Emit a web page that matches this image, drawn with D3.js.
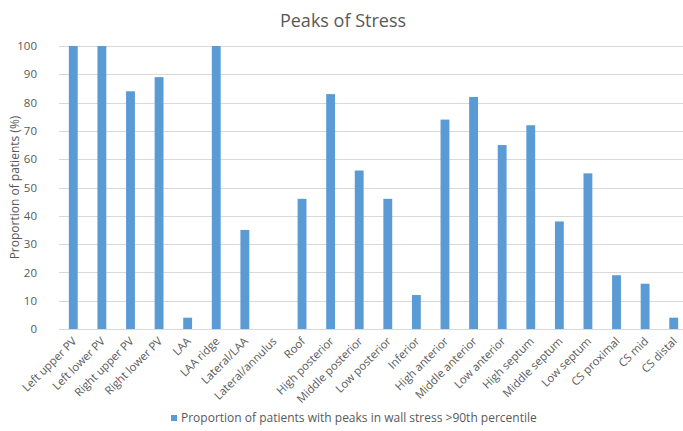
<!DOCTYPE html>
<html>
<head>
<meta charset="utf-8">
<script src="https://cdn.jsdelivr.net/npm/d3@7"></script>
<style>
  html, body { margin: 0; padding: 0; background: #fff; }
  svg { display: block; font-family: "Open Sans", Lato, sans-serif; }
</style>
</head>
<body>
<svg id="chart" width="683" height="431"></svg>
<script>
// Regions of the left atrium / coronary sinus
const categories = [
  "Left upper PV", "Left lower PV", "Right upper PV", "Right lower PV", "LAA",
  "LAA ridge", "Lateral/LAA", "Lateral/annulus", "Roof", "High posterior",
  "Middle posterior", "Low posterior", "Inferior", "High anterior", "Middle anterior",
  "Low anterior", "High septum", "Middle septum", "Low septum", "CS proximal",
  "CS mid", "CS distal"
];
// Proportion of patients (%) with peaks in wall stress >90th percentile
const values = [100, 100, 84, 89, 4, 100, 35, 0, 46, 83, 56, 46, 12, 74, 82, 65, 72, 38, 55, 19, 16, 4];
const yTicks = [0, 10, 20, 30, 40, 50, 60, 70, 80, 90, 100];
const titleText = "Peaks of Stress";
const yAxisTitle = "Proportion of patients (%)";
const seriesName = "Proportion of patients with peaks in wall stress >90th percentile";

const svg = d3.select("#chart");
const textColor = "#595959";
const barColor = "#5B9BD5";
const gridColor = "#D9D9D9";
const font = "'Open Sans', Lato, sans-serif";

const plot = { left: 59, right: 688, top: 46, bottom: 329 };

const x = d3.scaleBand()
  .domain(categories)
  .range([plot.left, plot.right])
  .paddingInner(0.69)
  .paddingOuter(0.345);

const y = d3.scaleLinear()
  .domain([0, 100])
  .range([plot.bottom, plot.top]);

// Title
svg.append("text")
  .attr("x", 343)
  .attr("y", 27)
  .attr("text-anchor", "middle")
  .attr("fill", textColor)
  .attr("font-size", 18)
  .text(titleText);

// Gridlines
svg.append("g")
  .selectAll("line")
  .data(yTicks)
  .join("line")
  .attr("x1", plot.left)
  .attr("x2", plot.right)
  .attr("y1", d => Math.round(y(d)) + 0.5)
  .attr("y2", d => Math.round(y(d)) + 0.5)
  .attr("stroke", gridColor)
  .attr("stroke-width", 1);

// Y axis tick labels
const yAxis = d3.axisLeft(y).tickValues(yTicks).tickSize(0).tickPadding(0);
const yg = svg.append("g")
  .attr("transform", `translate(37,0)`)
  .call(yAxis);
yg.select(".domain").remove();
yg.selectAll("text")
  .attr("fill", textColor)
  .attr("font-size", 11.5)
  .attr("font-family", font);

// Y axis title
svg.append("text")
  .attr("transform", `translate(19,${(plot.top + plot.bottom) / 2}) rotate(-90)`)
  .attr("text-anchor", "middle")
  .attr("fill", textColor)
  .attr("font-size", 12)
  .text(yAxisTitle);

// Bars
svg.append("g")
  .selectAll("rect")
  .data(values)
  .join("rect")
  .attr("x", (d, i) => x(categories[i]))
  .attr("width", x.bandwidth())
  .attr("y", d => y(d))
  .attr("height", d => y(0) - y(d))
  .attr("fill", barColor);

// Category labels, rotated 45 degrees
const xAxis = d3.axisBottom(x).tickSize(0).tickPadding(0);
const xg = svg.append("g")
  .attr("transform", `translate(0,${plot.bottom})`)
  .call(xAxis);
xg.select(".domain").remove();
xg.selectAll("text")
  .attr("fill", textColor)
  .attr("font-size", 11.3)
  .attr("font-family", font)
  .attr("text-anchor", "end")
  .attr("dy", null)
  .attr("y", 0)
  .attr("transform", "translate(4,13) rotate(-45)");

// Legend
const legend = svg.append("g").attr("transform", "translate(171,418)");
legend.append("rect")
  .attr("x", 0).attr("y", -3)
  .attr("width", 6).attr("height", 6)
  .attr("fill", barColor);
legend.append("text")
  .attr("x", 10)
  .attr("y", 0)
  .attr("dy", "0.35em")
  .attr("fill", textColor)
  .attr("font-size", 12)
  .text(seriesName);
</script>
</body>
</html>
